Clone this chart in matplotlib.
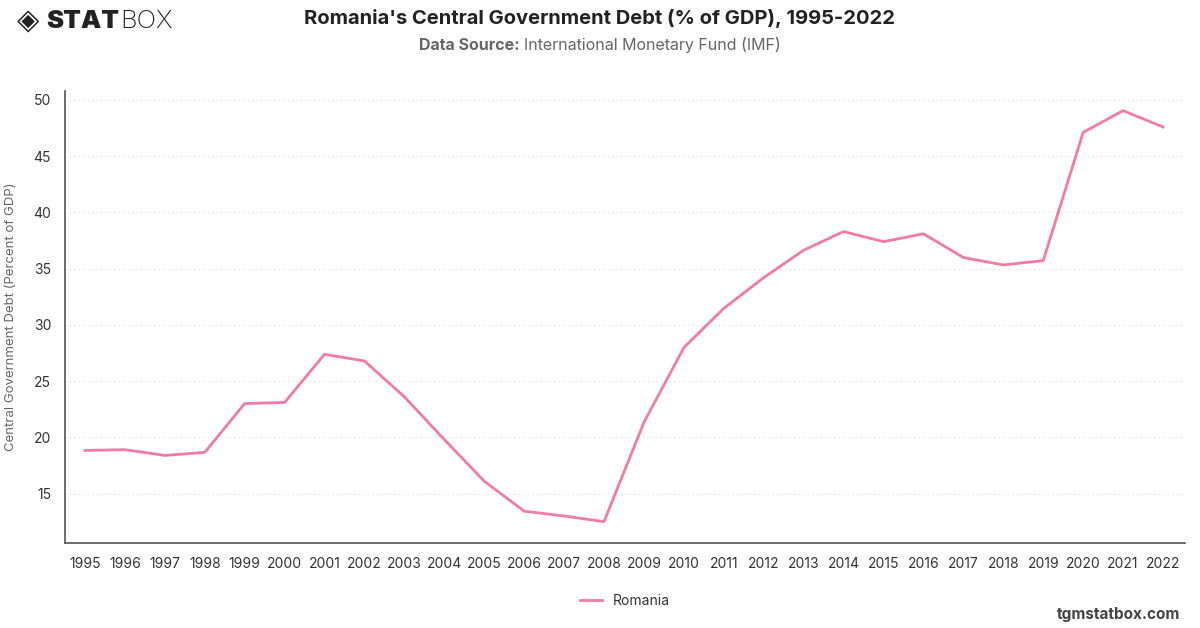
import matplotlib
matplotlib.use('Agg')
import matplotlib.pyplot as plt

# ==========================
# Dados
# ==========================
years = list(range(1995, 2023))
debt = [18.83, 18.9, 18.39, 18.66, 23.0, 23.1, 27.38, 26.79, 23.6, 19.8,
        16.1, 13.43, 13.0, 12.5, 21.33, 27.98, 31.47, 34.2, 36.64, 38.3,
        37.4, 38.1, 35.99, 35.33, 35.72, 47.12, 49.05, 47.6]
series_name = "Romania"
y_ticks = [15, 20, 25, 30, 35, 40, 45, 50]

title = "Romania's Central Government Debt (% of GDP), 1995-2022"
ylabel = "Central Government Debt (Percent of GDP)"

line_color = "#f07ba6"
text_color = "#333333"
grey = "#666666"

plt.rcParams['font.family'] = ['Inter', 'DejaVu Sans']

fig = plt.figure(figsize=(12, 6.28), dpi=100)
ax = fig.add_axes([65/1200, 1 - 543/628, 1120/1200, 452/628])

ax.plot(years, debt, color=line_color, linewidth=2, label=series_name)

ax.set_xlim(1994.5, 2022.55)
ax.set_ylim(10.6, 50.8)
ax.set_xticks(years)
ax.set_xticklabels([str(y) for y in years])
ax.set_yticks(y_ticks)
ax.tick_params(length=0, labelsize=10, colors=text_color, pad=10)
ax.grid(axis='y', linestyle=(0, (1, 3)), color="#d9d9d9", linewidth=0.8)
ax.set_axisbelow(True)

for s in ["top", "right"]:
    ax.spines[s].set_visible(False)
for s in ["left", "bottom"]:
    ax.spines[s].set_color("#555555")
    ax.spines[s].set_linewidth(1.2)

ax.set_ylabel(ylabel, fontsize=9.5, color=grey, labelpad=12)

# Titulo e subtitulo
fig.text(0.5, 1 - 18/628, title, ha='center', va='center',
         fontsize=14.5, fontweight='bold', color="#222222")
t1 = fig.text(0.5, 1 - 45/628, "Data Source: ", ha='left', va='center',
              fontsize=11.5, fontweight='bold', color=grey)
t2 = fig.text(0.5, 1 - 45/628, "International Monetary Fund (IMF)", ha='left',
              va='center', fontsize=11.5, color=grey)

# Logo
d = fig.text(17/1200, 1 - 21/628, "◈", ha='left', va='center',
             fontsize=21, color="#222222", family=['DejaVu Sans'])
l1 = fig.text(46/1200, 1 - 21/628, "STAT", ha='left', va='center',
              fontsize=18.5, fontweight='black', color="#222222")
l2 = fig.text(0, 1 - 21/628, "BOX", ha='left', va='center',
              fontsize=18.5, fontweight='light', color="#222222")

# centralizar subtitulo e encaixar logo
fig.canvas.draw()
r = fig.canvas.get_renderer()
w1 = t1.get_window_extent(r).width
w2 = t2.get_window_extent(r).width
x0 = 600 - (w1 + w2) / 2
t1.set_x(x0 / 1200)
t2.set_x((x0 + w1) / 1200)
e = l1.get_window_extent(r)
l2.set_x((e.x1 + 1) / 1200)

# Legenda
leg = ax.legend(loc='upper center', bbox_to_anchor=(0.5, -0.085), frameon=False,
                fontsize=10, handlelength=1.6, labelcolor=text_color)

fig.text(1180/1200, 1 - 614/628, "tgmstatbox.com", ha='right', va='center',
         fontsize=11, fontweight='bold', color="#444444")

plt.savefig("out.png", dpi=100)
plt.close()
